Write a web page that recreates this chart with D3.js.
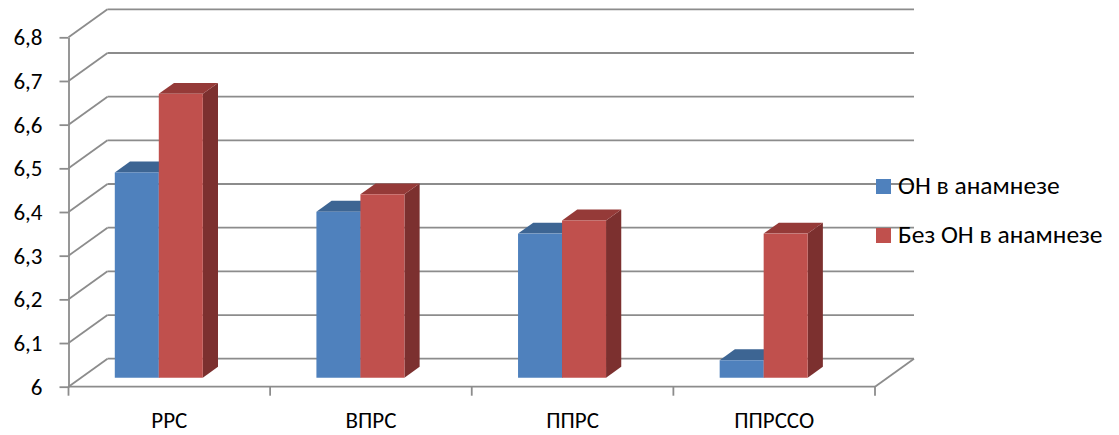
<!DOCTYPE html>
<html>
<head>
<meta charset="utf-8">
<script src="https://cdn.jsdelivr.net/npm/d3@7"></script>
<style>
  html, body { margin: 0; padding: 0; background: #fff; }
  svg { display: block; }
  text { font-family: Calibri, Carlito, Lato, "Noto Sans", sans-serif; fill: #000; }
</style>
</head>
<body>
<svg id="chart" width="1119" height="435"></svg>
<script>
// Data
const categories = ["РРС", "ВПРС", "ППРС", "ППРССО"];
const seriesNames = ["ОН в анамнезе", "Без ОН в анамнезе"];
const withHistory = [6.47, 6.38, 6.33, 6.04];
const withoutHistory = [6.65, 6.42, 6.36, 6.33];
const yTicks = [6, 6.1, 6.2, 6.3, 6.4, 6.5, 6.6, 6.7, 6.8];
const yTickLabels = ["6", "6,1", "6,2", "6,3", "6,4", "6,5", "6,6", "6,7", "6,8"];

const seriesValues = [withHistory, withoutHistory];
const colors = {
  front: ["#4F81BD", "#C0504D"],
  top:   ["#3D6593", "#953A38"],
  side:  ["#385D89", "#7C302F"]
};

const svg = d3.select("#chart");

// Front plane of the 3-D box and oblique depth vector
const plotLeft = 68.5, plotRight = 875, plotBottom = 386.7, plotTop = 37.3;
const depth = { dx: 39, dy: -28 };

const y = d3.scaleLinear().domain([6, 6.8]).range([plotBottom, plotTop]);
const x = d3.scaleBand().domain(categories).range([plotLeft, plotRight]);
const inner = d3.scaleBand().domain(seriesNames).range([0, 88]);

// project a front-plane point back by a depth fraction
const proj = (px, py, d) => [px + depth.dx * d, py + depth.dy * d];

const gridColor = "#8C8C8C";
const grid = svg.append("g")
  .attr("stroke", gridColor)
  .attr("stroke-width", 1.8)
  .attr("fill", "none");

// back wall horizontal gridlines
grid.selectAll("line.back")
  .data(yTicks)
  .join("line")
  .attr("class", "back")
  .attr("x1", d => proj(plotLeft, y(d), 1)[0])
  .attr("y1", d => proj(plotLeft, y(d), 1)[1])
  .attr("x2", d => proj(plotRight, y(d), 1)[0])
  .attr("y2", d => proj(plotRight, y(d), 1)[1]);

// side wall diagonals
grid.selectAll("line.side")
  .data(yTicks)
  .join("line")
  .attr("class", "side")
  .attr("x1", plotLeft)
  .attr("y1", d => y(d))
  .attr("x2", d => proj(plotLeft, y(d), 1)[0])
  .attr("y2", d => proj(plotLeft, y(d), 1)[1]);

// floor front edge and right edge
grid.append("line")
  .attr("x1", plotLeft).attr("y1", y(6))
  .attr("x2", plotRight).attr("y2", y(6));
grid.append("line")
  .attr("x1", plotRight).attr("y1", y(6))
  .attr("x2", proj(plotRight, y(6), 1)[0]).attr("y2", proj(plotRight, y(6), 1)[1]);

// category boundary ticks
const bounds = categories.map(c => x(c)).concat([plotRight]);
grid.selectAll("line.ctick")
  .data(bounds)
  .join("line")
  .attr("class", "ctick")
  .attr("x1", d => d).attr("y1", y(6))
  .attr("x2", d => d).attr("y2", y(6) + 9);

// value axis
const yAxis = d3.axisLeft(y)
  .tickValues(yTicks)
  .tickFormat((d, i) => yTickLabels[i])
  .tickSize(9)
  .tickSizeOuter(0)
  .tickPadding(17);

const yg = svg.append("g")
  .attr("transform", `translate(${plotLeft},0)`)
  .call(yAxis);
yg.selectAll("path, line").attr("stroke", gridColor).attr("stroke-width", 1.8);
yg.selectAll("text").style("font-size", "23px").attr("fill", "#000");

// category labels
const xAxis = d3.axisBottom(x).tickSize(0).tickPadding(25);
const xg = svg.append("g")
  .attr("transform", `translate(0,${plotBottom})`)
  .call(xAxis);
xg.select(".domain").remove();
xg.selectAll("text").style("font-size", "23px").attr("fill", "#000");

// 3-D columns
const barDepth0 = 0.32, barDepth = 0.39;
const barShift = -67;
const sdx = depth.dx * barDepth, sdy = depth.dy * barDepth;

const bars = svg.append("g");
categories.forEach((c, ci) => {
  seriesNames.forEach((s, si) => {
    const v = seriesValues[si][ci];
    const fx = x(c) + x.bandwidth() / 2 + barShift + inner(s);
    const [x0, yTop] = proj(fx, y(v), barDepth0);
    const [, yBase] = proj(fx, y(6), barDepth0);
    const w = inner.bandwidth();
    const g = bars.append("g");
    // side face
    g.append("path")
      .attr("d", `M${x0 + w},${yTop}L${x0 + w + sdx},${yTop + sdy}L${x0 + w + sdx},${yBase + sdy}L${x0 + w},${yBase}Z`)
      .attr("fill", colors.side[si]);
    // top face
    g.append("path")
      .attr("d", `M${x0},${yTop}L${x0 + w},${yTop}L${x0 + w + sdx},${yTop + sdy}L${x0 + sdx},${yTop + sdy}Z`)
      .attr("fill", colors.top[si]);
    // front face
    g.append("rect")
      .attr("x", x0).attr("y", yTop)
      .attr("width", w).attr("height", yBase - yTop)
      .attr("fill", colors.front[si]);
  });
});

// legend
const legend = svg.append("g").attr("transform", "translate(876,179)");
const items = legend.selectAll("g")
  .data(seriesNames)
  .join("g")
  .attr("transform", (d, i) => `translate(0,${i * 49})`);
items.append("rect")
  .attr("width", 15).attr("height", 15)
  .attr("fill", (d, i) => colors.front[i]);
items.append("text")
  .attr("x", 22).attr("y", 15)
  .style("font-size", "25.5px")
  .text(d => d);
</script>
</body>
</html>
